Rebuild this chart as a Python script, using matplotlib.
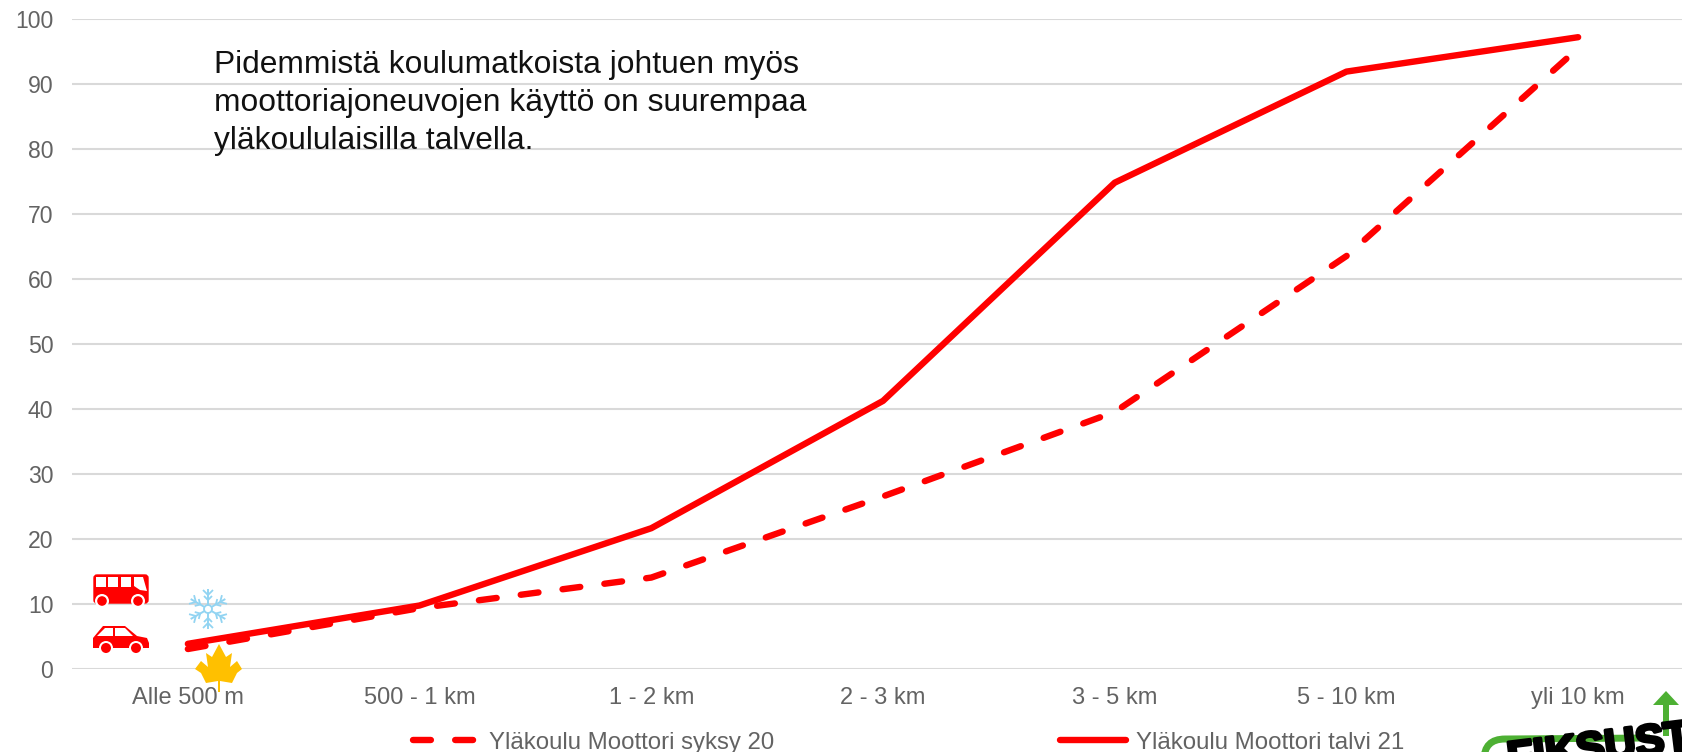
import numpy as np
import matplotlib
matplotlib.use("Agg")
import matplotlib.pyplot as plt
import matplotlib.patheffects as pe
from matplotlib.patches import Circle, FancyBboxPatch, Polygon, Rectangle, PathPatch
from matplotlib.path import Path
from matplotlib.transforms import Affine2D

categories = ["Alle 500 m", "500 - 1 km", "1 - 2 km", "2 - 3 km", "3 - 5 km", "5 - 10 km", "yli 10 km"]
syksy_20 = [3.0, 9.3, 14.0, 26.5, 39.5, 63.5, 95.5]
talvi_21 = [3.8, 9.7, 21.6, 41.2, 74.8, 91.9, 97.2]
y_ticks = [0, 10, 20, 30, 40, 50, 60, 70, 80, 90, 100]

W, H = 1682, 752
RED = "#FF0000"
GREY = "#636363"
GREEN = "#4DB033"

plt.rcParams["font.family"] = ["Liberation Sans", "DejaVu Sans"]

fig = plt.figure(figsize=(W / 100, H / 100), dpi=100)
# plot area runs a bit past the right edge of the picture
ax = fig.add_axes([72 / W, 1 - 668.5 / H, (1694 - 72) / W, (668.5 - 19) / H])
ax.patch.set_alpha(0)

x = np.arange(len(categories))
ax.plot(x, syksy_20, color=RED, lw=4.6, dashes=(2.8, 3.8), dash_capstyle="round",
        dash_joinstyle="round", label="Yläkoulu Moottori syksy 20", zorder=3)
ax.plot(x, talvi_21, color=RED, lw=4.6, solid_capstyle="round", solid_joinstyle="round",
        label="Yläkoulu Moottori talvi 21", zorder=3)

ax.set_xlim(-0.5, len(categories) - 0.5)
ax.set_ylim(0, 100)
ax.set_xticks(x, categories)
ax.set_yticks(y_ticks)
ax.tick_params(length=0, labelcolor=GREY)
ax.tick_params(axis="x", pad=13, labelsize=17)
ax.tick_params(axis="y", pad=13.5, labelsize=16.6)
ax.grid(axis="y", color="#D9D9D9", lw=1.5)
ax.set_axisbelow(True)
for s in ax.spines.values():
    s.set_visible(False)

fig.legend(loc="lower left", bbox_to_anchor=(411 / W, 1 - 756 / H), ncol=2, frameon=False,
           fontsize=17.3, labelcolor=GREY, handlelength=2.75, handletextpad=0.4,
           columnspacing=11.9, borderpad=0.1, borderaxespad=0)

fig.text(214 / W, 1 - 155.5 / H,
         "Pidemmistä koulumatkoista johtuen myös\nmoottoriajoneuvojen käyttö on suurempaa\nyläkoululaisilla talvella.",
         fontsize=22.9, color="#111111", linespacing=1.33, va="bottom", ha="left")

# icons, logo: picture pixels, y going down
px = Affine2D().scale(1 / W, -1 / H).translate(0, 1) + fig.transFigure


def add(p, z=5):
    p.set_transform(px)
    p.set_zorder(z)
    fig.add_artist(p)


# bus
add(FancyBboxPatch((94, 575), 54, 28, boxstyle="round,pad=0,rounding_size=3", fc=RED, ec=RED, lw=1))
for wx in (96, 108.5, 121):
    add(Rectangle((wx, 577), 10, 10, fc="white", ec="none"), 6)
add(Polygon([(134, 577), (143, 577), (147, 591), (140, 590), (134, 586)], fc="white", ec="none"), 6)
for cx in (102, 138):
    add(Circle((cx, 601), 7, fc="white", ec="none"), 6)
    add(Circle((cx, 601), 4.8, fc=RED, ec="none"), 7)

# car
add(Polygon([(93, 648), (93, 638), (103, 626), (125, 626), (137, 636), (147, 638), (149, 643), (149, 648)],
            fc=RED, ec="none"))
add(Polygon([(97, 636), (105, 628), (113, 628), (113, 636)], fc="white", ec="none"), 6)
add(Polygon([(115, 636), (115, 628), (125, 628), (133, 636)], fc="white", ec="none"), 6)
for cx in (106, 136):
    add(Circle((cx, 648), 7, fc="white", ec="none"), 6)
    add(Circle((cx, 648), 5, fc=RED, ec="none"), 7)

# snowflake
SNOW = "#92D4F2"
sc = np.array([208, 609])
for a in np.deg2rad(np.arange(0, 360, 60) + 90):
    d = np.array([np.cos(a), np.sin(a)])
    n = np.array([-d[1], d[0]])
    add(PathPatch(Path([sc + 4 * d, sc + 20 * d]), ec=SNOW, lw=1.4, fc="none"))
    for r, b in ((14, 5), (9, 4)):
        base = sc + r * d
        for sgn in (-1, 1):
            add(PathPatch(Path([base, base + b * d + sgn * b * n]), ec=SNOW, lw=1.3, fc="none"))
add(Circle(sc, 4, fc="none", ec=SNOW, lw=1.3))

# maple leaf
leaf = [(219, 644), (226, 657), (232, 653), (230, 667), (237, 661), (242, 669), (237, 673), (232, 683),
        (220, 681), (220, 692), (218, 692), (218, 681), (206, 683), (201, 673), (195, 669), (201, 661),
        (208, 667), (206, 653), (212, 657)]
add(Polygon(leaf, fc="#FFC000", ec="none"))

# logo, cut off by the lower edge
add(PathPatch(Path([(1484, 760), (1484, 739), (1505, 739), (1650, 738)],
                   [Path.MOVETO, Path.CURVE3, Path.CURVE3, Path.LINETO]),
              fc="none", ec=GREEN, lw=5))
add(Rectangle((1663, 700), 6, 36, fc=GREEN, ec="none"))
add(Polygon([(1666, 691), (1679, 705), (1653, 705)], fc=GREEN, ec="none"))
fig.text(1509 / W, 1 - 772 / H, "FIKSUST", fontsize=31, fontweight="bold", color="black",
         rotation=7, rotation_mode="anchor", ha="left", va="baseline", zorder=8,
         path_effects=[pe.withStroke(linewidth=2.5, foreground="black")])

fig.savefig("out.png", dpi=100)
